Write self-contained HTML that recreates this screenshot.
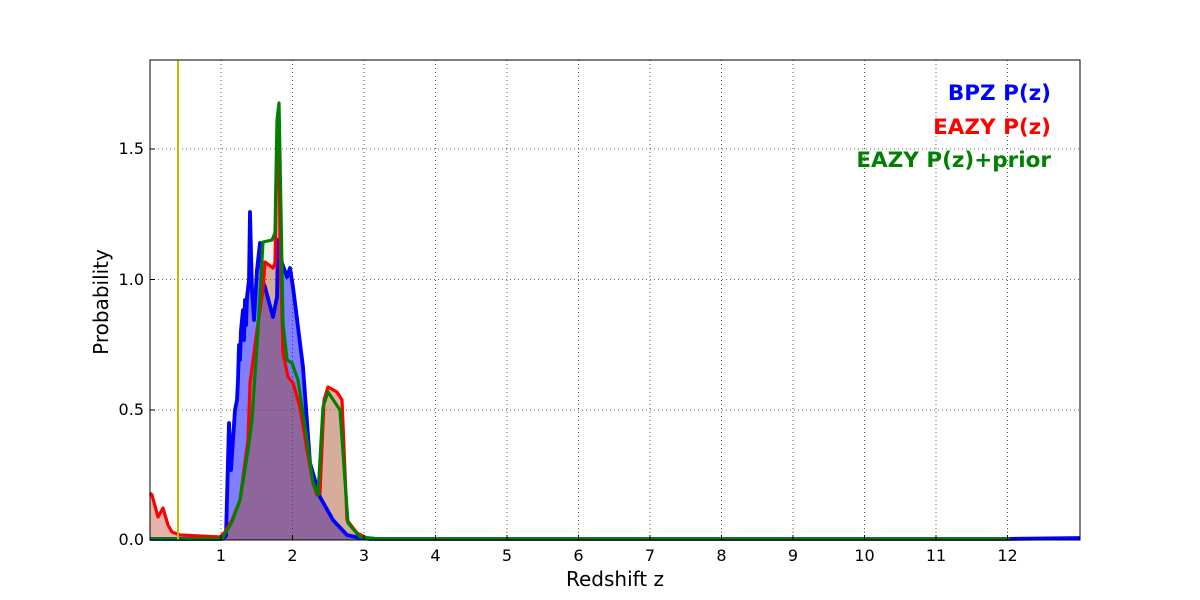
<!DOCTYPE html>
<html><head><meta charset="utf-8"><style>
body{margin:0;background:#fff}
svg{display:block;font-family:"DejaVu Sans","Liberation Sans",sans-serif}
</style></head><body>
<svg width="1200" height="600" viewBox="0 0 1200 600" xmlns="http://www.w3.org/2000/svg">
<rect width="1200" height="600" fill="#fff"/>
<g stroke="#000" stroke-width="0.8" stroke-dasharray="1,3" opacity="0.8">
<line x1="221" y1="60" x2="221" y2="540"/><line x1="292.5" y1="60" x2="292.5" y2="540"/>
<line x1="364" y1="60" x2="364" y2="540"/><line x1="435.5" y1="60" x2="435.5" y2="540"/>
<line x1="507" y1="60" x2="507" y2="540"/><line x1="578.5" y1="60" x2="578.5" y2="540"/>
<line x1="650" y1="60" x2="650" y2="540"/><line x1="721.5" y1="60" x2="721.5" y2="540"/>
<line x1="793" y1="60" x2="793" y2="540"/><line x1="864.5" y1="60" x2="864.5" y2="540"/>
<line x1="936" y1="60" x2="936" y2="540"/><line x1="1007.5" y1="60" x2="1007.5" y2="540"/>
<line x1="150" y1="149" x2="1080" y2="149"/><line x1="150" y1="279.5" x2="1080" y2="279.5"/>
<line x1="150" y1="410" x2="1080" y2="410"/>
</g>
<polygon fill="#0000ff" fill-opacity="0.5" points="150,540 150,539 222,539 226,536 229,423 231,470 233,440 235,410 237,400 238,380 239,345 240,360 241,330 243,310 244,340 245,300 246,325 247,297 249,280 250,212 252,290 254,320 257,270 260,243 262,280 265,287 273,317 277,297 278,240 282,263 287,277 290,268 293,287 303,367 310,463 320,497 333,520 347,535 360,538 370,539 1080,539 1080,540"/>
<polygon fill="#c83c28" fill-opacity="0.4" points="150,540 150,492 152,495 158,517 163,508 168,525 172,532 180,535 220,537 225,532 232,520 240,500 248,440 250,383 258,323 263,290 265,262 273,268 275,263 277,143 279,136 280,240 283,353 288,377 293,383 300,407 307,450 313,483 317,495 320,493 324,400 328,387 337,392 342,400 347,520 357,533 367,538 380,539 1080,539 1080,540"/>
<polygon fill="#008000" fill-opacity="0.08" points="150,540 222,539 232,522 240,500 248,450 252,420 258,330 263,242 272,240 275,233 277,120 279,103 280,157 283,323 287,360 292,363 298,380 307,440 313,483 318,495 323,407 328,392 340,410 348,523 360,537 1080,539 1080,540"/>
<g fill="none" stroke-linejoin="round">
<polyline stroke="#0000ff" stroke-width="3.8" points="150,539 222,539 226,536 229,423 231,470 233,440 235,410 237,400 238,380 239,345 240,360 241,330 243,310 244,340 245,300 246,325 247,297 249,280 250,212 252,290 254,320 257,270 260,243 262,280 265,287 273,317 277,297 278,240 282,263 287,277 290,268 293,287 303,367 310,463 320,497 333,520 347,535 360,538 370,539 1000,539 1080,538"/>
<polyline stroke="#ff0000" stroke-width="3.2" points="150,493 152,495 158,517 163,508 168,525 172,532 180,535 220,537 225,532 232,520 240,500 248,440 250,383 258,323 263,290 265,262 273,268 275,263 277,143 279,136 280,240 283,353 288,377 293,383 300,407 307,450 313,483 317,495 320,493 324,400 328,387 337,392 342,400 347,520 357,533 367,538 380,539 1010,539"/>
<polyline stroke="#008000" stroke-width="3.2" points="150,539 222,539 232,522 240,500 248,450 252,420 258,330 263,242 272,240 275,233 277,120 279,103 280,157 283,323 287,360 292,363 298,380 307,440 313,483 318,495 323,407 328,392 340,410 348,523 360,537 380,539 1010,539"/>
</g>
<line x1="178" y1="60" x2="178" y2="540" stroke="#bfbf00" stroke-width="2"/>
<rect x="150" y="60" width="930" height="480" fill="none" stroke="#000" stroke-width="1"/>
<g stroke="#000" stroke-width="1">
<line x1="221" y1="540" x2="221" y2="535"/><line x1="292.5" y1="540" x2="292.5" y2="535"/>
<line x1="364" y1="540" x2="364" y2="535"/><line x1="435.5" y1="540" x2="435.5" y2="535"/>
<line x1="507" y1="540" x2="507" y2="535"/><line x1="578.5" y1="540" x2="578.5" y2="535"/>
<line x1="650" y1="540" x2="650" y2="535"/><line x1="721.5" y1="540" x2="721.5" y2="535"/>
<line x1="793" y1="540" x2="793" y2="535"/><line x1="864.5" y1="540" x2="864.5" y2="535"/>
<line x1="936" y1="540" x2="936" y2="535"/><line x1="1007.5" y1="540" x2="1007.5" y2="535"/>
<line x1="150" y1="149" x2="155" y2="149"/><line x1="150" y1="279.5" x2="155" y2="279.5"/><line x1="150" y1="410" x2="155" y2="410"/>
</g>
<g font-size="16" fill="#000" text-anchor="middle">
<text x="221" y="561">1</text><text x="292.5" y="561">2</text><text x="364" y="561">3</text>
<text x="435.5" y="561">4</text><text x="507" y="561">5</text><text x="578.5" y="561">6</text>
<text x="650" y="561">7</text><text x="721.5" y="561">8</text><text x="793" y="561">9</text>
<text x="864.5" y="561">10</text><text x="936" y="561">11</text><text x="1007.5" y="561">12</text>
</g>
<g font-size="16" fill="#000" text-anchor="end">
<text x="144" y="545">0.0</text><text x="144" y="415">0.5</text><text x="144" y="285">1.0</text><text x="144" y="154">1.5</text>
</g>
<text x="615" y="586" font-size="20" text-anchor="middle">Redshift z</text>
<text transform="translate(108,302) rotate(-90)" font-size="20" text-anchor="middle">Probability</text>
<g font-size="21.5" font-weight="bold" text-anchor="end">
<text x="1051" y="100" fill="#0000ff">BPZ P(z)</text>
<text x="1051" y="134" fill="#ff0000">EAZY P(z)</text>
<text x="1051" y="167" fill="#008000">EAZY P(z)+prior</text>
</g>
</svg>
</body></html>
